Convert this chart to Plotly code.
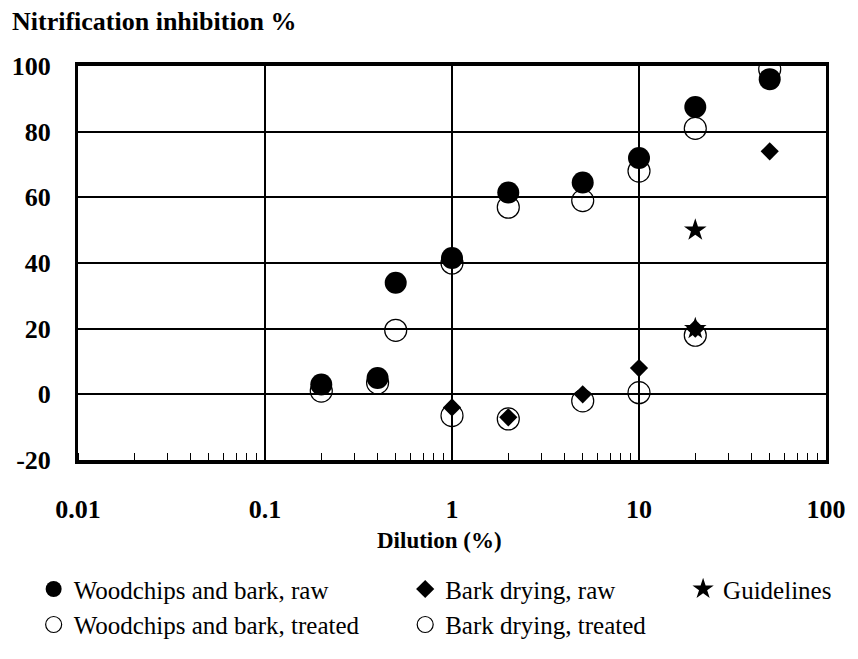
import plotly.graph_objects as go

# Dilution levels (%)
dil_woodchips = [0.2, 0.4, 0.5, 1, 2, 5, 10, 20, 50]
dil_bark = [1, 2, 5, 10, 20, 50]
dil_bark_treated = [1, 2, 5, 10, 20]
dil_guidelines = [20, 20]

# Nitrification inhibition (%)
woodchips_raw = [3, 5, 34, 41.5, 61.5, 64.5, 72, 87.5, 96]
woodchips_treated = [1, 3.5, 19.5, 40, 57, 59, 68, 81, 99]
bark_raw = [-4, -7, 0, 8, 20, 74]
bark_treated = [-6.5, -7.5, -2, 0.5, 18]
guidelines = [50, 20]

# Axis tick labels
x_tickvals = [0.01, 0.1, 1, 10, 100]
x_ticklabels = ["0.01", "0.1", "1", "10", "100"]
y_tickvals = [-20, 0, 20, 40, 60, 80, 100]

FONT = "Liberation Serif, Times New Roman, serif"
W, H = 858, 659
L, R, T, B = 73, 26, 66, 185
PW, PH = W - L - R, H - T - B

def px_x(p):
    return (p - L) / PW

def px_y(p):
    return (H - B - p) / PH

fig = go.Figure()

open_circle = dict(symbol="circle-open", size=22, color="black",
                   line=dict(width=1.2, color="black"))

# Open markers first so the filled ones sit on top of them
fig.add_trace(go.Scatter(
    x=dil_woodchips, y=woodchips_treated, mode="markers",
    name="Woodchips and bark, treated", marker=open_circle,
    legend="legend", legendrank=2))
fig.add_trace(go.Scatter(
    x=dil_bark_treated, y=bark_treated, mode="markers",
    name="Bark drying, treated", marker=open_circle,
    legend="legend2", legendrank=2))
fig.add_trace(go.Scatter(
    x=dil_woodchips, y=woodchips_raw, mode="markers",
    name="Woodchips and bark, raw",
    marker=dict(symbol="circle", size=22, color="black", line=dict(width=0)),
    legend="legend", legendrank=1))
fig.add_trace(go.Scatter(
    x=dil_bark, y=bark_raw, mode="markers",
    name="Bark drying, raw",
    marker=dict(symbol="diamond", size=14, color="black", line=dict(width=0)),
    legend="legend2", legendrank=1))
fig.add_trace(go.Scatter(
    x=dil_guidelines, y=guidelines, mode="markers",
    name="Guidelines",
    marker=dict(symbol="star", size=17, color="black", line=dict(width=0)),
    legend="legend3"))

tick_font = dict(family=FONT, size=26, color="black")

fig.update_xaxes(
    type="log", range=[-2, 2],
    tickvals=x_tickvals,
    ticktext=[f"<b>{t}</b>" for t in x_ticklabels],
    ticks="", ticklabelstandoff=23, tickfont=tick_font,
    showgrid=True, gridcolor="black", gridwidth=2,
    showline=True, linecolor="black", linewidth=4, mirror=True,
    minor=dict(dtick="D1", ticks="inside", ticklen=7, tickwidth=1,
               tickcolor="black", showgrid=False),
)
fig.update_yaxes(
    range=[-20, 100],
    tickvals=y_tickvals,
    ticktext=[f"<b>{v}</b>" for v in y_tickvals],
    ticks="", ticklabelstandoff=19, tickfont=tick_font,
    showgrid=True, gridcolor="black", gridwidth=2,
    zeroline=True, zerolinecolor="black", zerolinewidth=2,
    showline=True, linecolor="black", linewidth=3, mirror=True,
)

legend_style = dict(
    orientation="v", yanchor="top", xanchor="left",
    font=dict(family=FONT, size=25, color="black"),
    bgcolor="rgba(0,0,0,0)", borderwidth=0, tracegroupgap=0,
    itemclick=False, itemdoubleclick=False,
)
legend_top = px_y(584)

fig.update_layout(
    width=W, height=H,
    margin=dict(l=L, r=R, t=T, b=B),
    paper_bgcolor="white", plot_bgcolor="white",
    showlegend=True,
    title=dict(
        text="<b>Nitrification inhibition %</b>",
        font=dict(family=FONT, size=26, color="black"),
        xref="container", yref="container",
        x=12 / W, xanchor="left", y=1 - 21 / H, yanchor="middle",
    ),
    legend=dict(x=px_x(28), y=legend_top, **legend_style),
    legend2=dict(x=px_x(405), y=legend_top, **legend_style),
    legend3=dict(x=px_x(687), y=legend_top, **legend_style),
    annotations=[dict(
        text="<b>Dilution (%)</b>", xref="paper", yref="paper",
        x=px_x(440), y=px_y(557), xanchor="center", yanchor="middle",
        showarrow=False,
        font=dict(family=FONT, size=23, color="black"),
    )],
)

fig.write_html("out.html")
